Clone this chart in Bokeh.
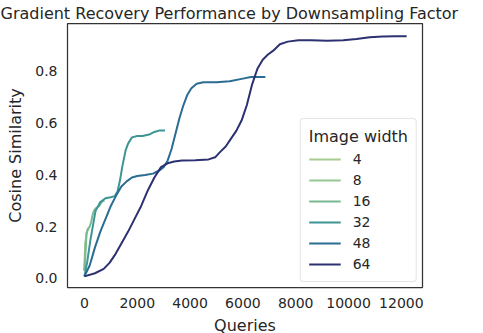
from bokeh.plotting import figure
from bokeh.models import Range1d, FixedTicker, PrintfTickFormatter, NumeralTickFormatter
from bokeh.embed import file_html
from bokeh.resources import INLINE

# ---- data ----
widths = ["4", "8", "16", "32", "48", "64"]
colors = ["#a5cd90", "#97c793", "#79b992", "#3d9494", "#2a6c92", "#2c3172"]

q4 = [0, 12, 24, 36, 48]
s4 = [0.03, 0.08, 0.12, 0.14, 0.147]

q8 = [0, 30, 60, 90, 120, 150, 190]
s8 = [0.03, 0.10, 0.16, 0.18, 0.185, 0.19, 0.19]

q16 = [0, 40, 80, 120, 160, 200, 260, 320, 380, 440, 500, 560, 620, 680, 760]
s16 = [0.03, 0.10, 0.17, 0.19, 0.195, 0.20, 0.22, 0.25, 0.265, 0.272, 0.276, 0.28, 0.29, 0.298, 0.30]

q32 = [0, 100, 230, 420, 600, 800, 1000, 1150, 1250, 1350, 1430, 1500, 1560, 1650, 1800,
       2000, 2200, 2450, 2650, 2850, 3050]
s32 = [0.008, 0.06, 0.15, 0.26, 0.295, 0.31, 0.314, 0.318, 0.335, 0.38, 0.43, 0.465, 0.495,
       0.52, 0.545, 0.55, 0.55, 0.556, 0.566, 0.572, 0.572]

q48 = [0, 200, 400, 600, 800, 1000, 1200, 1400, 1600, 1800, 2000, 2300, 2600, 2850, 3000,
       3150, 3300, 3450, 3600, 3750, 3900, 4050, 4250, 4500, 5000, 5500, 6000, 6300, 6600, 6850]
s48 = [0.008, 0.05, 0.12, 0.18, 0.23, 0.28, 0.32, 0.355, 0.375, 0.39, 0.396, 0.40, 0.405,
       0.418, 0.43, 0.455, 0.50, 0.56, 0.62, 0.67, 0.71, 0.735, 0.752, 0.758, 0.758, 0.762,
       0.772, 0.778, 0.778, 0.778]

q64 = [0, 400, 730, 950, 1150, 1400, 1650, 1900, 2150, 2400, 2650, 2900, 3150, 3400, 3700,
       4200, 4700, 4950, 5150, 5350, 5550, 5750, 5950, 6150, 6350, 6550, 6750, 6950, 7150,
       7400, 7700, 8100, 8600, 9200, 9800, 10300, 10800, 11300, 11800, 12200]
s64 = [0.008, 0.02, 0.037, 0.06, 0.09, 0.135, 0.18, 0.23, 0.28, 0.34, 0.39, 0.43, 0.445,
       0.452, 0.456, 0.457, 0.46, 0.468, 0.49, 0.51, 0.54, 0.57, 0.61, 0.67, 0.75, 0.81,
       0.845, 0.865, 0.88, 0.905, 0.915, 0.92, 0.92, 0.918, 0.92, 0.925, 0.932, 0.935,
       0.936, 0.936]

x_ticks = [0, 2000, 4000, 6000, 8000, 10000, 12000]
y_ticks = [0.0, 0.2, 0.4, 0.6, 0.8]

series = [(q4, s4), (q8, s8), (q16, s16), (q32, s32), (q48, s48), (q64, s64)]

FONT = "DejaVu Sans"
TXT = "#262626"

p = figure(frame_width=355, frame_height=264, output_backend="svg", toolbar_location=None,
           x_range=Range1d(-640, 12800), y_range=Range1d(-0.035, 0.985),
           min_border_left=67, min_border_right=53, min_border_top=17, min_border_bottom=42,
           title="Gradient Recovery Performance by Downsampling Factor")

p.title.text_font = FONT
p.title.text_font_size = "16px"
p.title.text_font_style = "normal"
p.title.text_color = TXT
p.title.align = "left"
p.title.offset = -67
p.title.standoff = 2
p.title.text_line_height = 1.0

for (q, s), w, c in zip(series, widths, colors):
    p.line(q, s, line_color=c, line_width=2, legend_label=w)

p.grid.visible = False
p.outline_line_color = "#333333"
p.outline_line_width = 1.25
p.background_fill_color = "white"
p.border_fill_color = "white"

for ax in (p.xaxis, p.yaxis):
    ax.axis_line_color = None
    ax.major_tick_line_color = None
    ax.minor_tick_line_color = None
    ax.major_tick_out = 0
    ax.major_tick_in = 0
    ax.minor_tick_out = 0
    ax.minor_tick_in = 0
    ax.major_label_text_font = FONT
    ax.major_label_text_font_size = "14px"
    ax.major_label_text_color = TXT
    ax.major_label_text_line_height = 1.0
    ax.axis_label_text_font = FONT
    ax.axis_label_text_font_size = "16px"
    ax.axis_label_text_font_style = "normal"
    ax.axis_label_text_color = TXT
    ax.axis_label_text_line_height = 1.0

p.xaxis.major_label_standoff = 10
p.xaxis.axis_label_standoff = 5
p.yaxis.major_label_standoff = 10
p.yaxis.axis_label_standoff = 7

p.xaxis.ticker = FixedTicker(ticks=x_ticks)
p.yaxis.ticker = FixedTicker(ticks=y_ticks)
p.xaxis.formatter = NumeralTickFormatter(format="0")
p.yaxis.formatter = PrintfTickFormatter(format="%.1f")
p.xaxis.axis_label = "Queries"
p.yaxis.axis_label = "Cosine Similarity"

lg = p.legend[0]
lg.location = "bottom_right"
lg.margin = 5
lg.padding = 8
lg.title = "Image width"
lg.title_text_font = FONT
lg.title_text_font_size = "16px"
lg.title_text_font_style = "normal"
lg.title_text_color = TXT
lg.title_standoff = 4
lg.label_text_font = FONT
lg.label_text_font_size = "14px"
lg.label_text_color = TXT
lg.glyph_width = 32
lg.glyph_height = 18
lg.label_height = 18
lg.spacing = 3
lg.label_standoff = 12
lg.border_line_color = "#cccccc"
lg.border_line_width = 1
lg.background_fill_alpha = 0.8
lg.border_radius = 4

open("out.html", "w").write(file_html(p, INLINE))
